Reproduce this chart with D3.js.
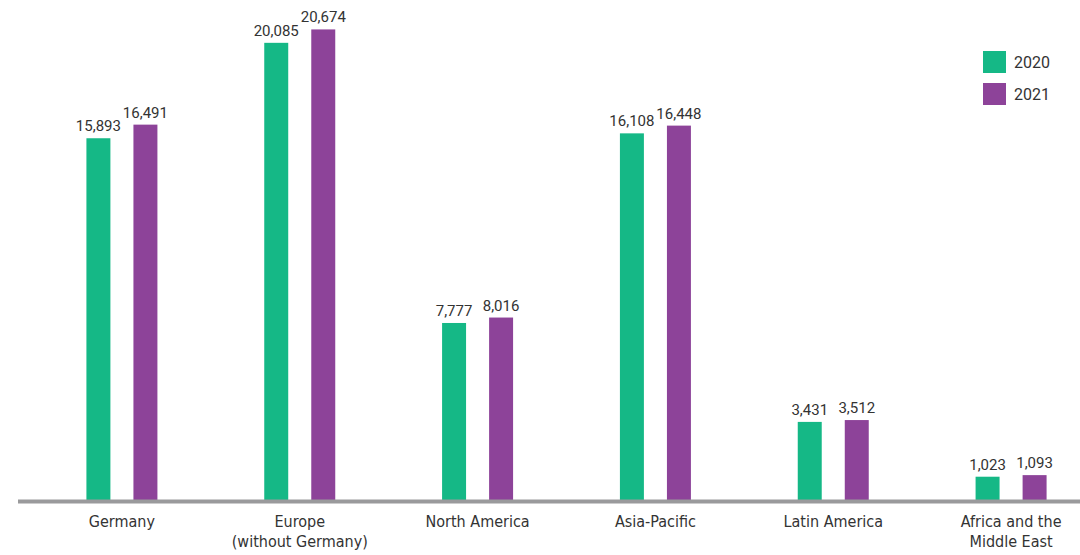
<!DOCTYPE html>
<html>
<head>
<meta charset="utf-8">
<script src="https://cdn.jsdelivr.net/npm/d3@7"></script>
<style>
  body { margin: 0; background: #fff; }
  svg { display: block; }
</style>
</head>
<body>
<svg id="chart" width="1080" height="555"></svg>
<script>
const regions = [
    ["Germany"],
    ["Europe", "(without Germany)"],
    ["North America"],
    ["Asia-Pacific"],
    ["Latin America"],
    ["Africa and the", "Middle East"]
];
const years = ["2020", "2021"];
const values2020 = [15893, 20085, 7777, 16108, 3431, 1023];
const values2021 = [16491, 20674, 8016, 16448, 3512, 1093];

const colors = { "2020": "#15b886", "2021": "#8d4399" };

const svg = d3.select("#chart");
const width = 1080;
const baseY = 500;

const keys = regions.map(r => r.join(" "));
const data = keys.map((k, i) => ({ key: k, lines: regions[i], "2020": values2020[i], "2021": values2021[i] }));

const x0 = d3.scaleBand().domain(keys).range([33, 1100]);
const x1 = d3.scaleBand().domain(years).range([-35.5, 35.5]).paddingInner(0.49);
const y = d3.scaleLinear().domain([0, 21000]).range([baseY, 22]);

const fmt = d3.format(",");

// bars
const groups = svg.append("g").selectAll("g")
    .data(data)
    .join("g")
    .attr("transform", d => `translate(${x0(d.key) + x0.bandwidth() / 2},0)`);

groups.selectAll("rect")
    .data(d => years.map(yr => ({ yr, v: d[yr] })))
    .join("rect")
    .attr("x", d => x1(d.yr))
    .attr("y", d => y(d.v))
    .attr("width", x1.bandwidth())
    .attr("height", d => baseY - y(d.v))
    .attr("fill", d => colors[d.yr]);

groups.selectAll("text.val")
    .data(d => years.map(yr => ({ yr, v: d[yr] })))
    .join("text")
    .attr("class", "val")
    .attr("x", d => x1(d.yr) + x1.bandwidth() / 2)
    .attr("y", d => y(d.v) - 7)
    .attr("text-anchor", "middle")
    .attr("font-family", "Roboto, sans-serif")
    .attr("font-size", "15px")
    .attr("fill", "#333")
    .text(d => fmt(d.v));

// baseline
svg.append("line")
    .attr("x1", 18).attr("x2", width)
    .attr("y1", baseY + 1.5).attr("y2", baseY + 1.5)
    .attr("stroke", "#9a9a9c")
    .attr("stroke-width", 4);

// category labels
const labels = svg.append("g").selectAll("text")
    .data(data)
    .join("text")
    .attr("text-anchor", "middle")
    .attr("font-family", "'DejaVu Sans Condensed', sans-serif")
    .attr("font-size", "16px")
    .attr("fill", "#333")
    .attr("transform", d => `translate(${x0(d.key) + x0.bandwidth() / 2},527)`);

labels.selectAll("tspan")
    .data(d => d.lines)
    .join("tspan")
    .attr("x", 0)
    .attr("dy", (d, i) => i === 0 ? 0 : 20)
    .text(d => d);

// legend
const legend = svg.append("g").attr("transform", "translate(983,51)");
const lg = legend.selectAll("g")
    .data(years)
    .join("g")
    .attr("transform", (d, i) => `translate(0,${i * 32})`);
lg.append("rect")
    .attr("width", 23).attr("height", 22)
    .attr("fill", d => colors[d]);
lg.append("text")
    .attr("x", 31).attr("y", 11)
    .attr("dy", "0.35em")
    .attr("font-family", "Roboto, sans-serif")
    .attr("font-size", "16px")
    .attr("fill", "#333")
    .text(d => d);
</script>
</body>
</html>
